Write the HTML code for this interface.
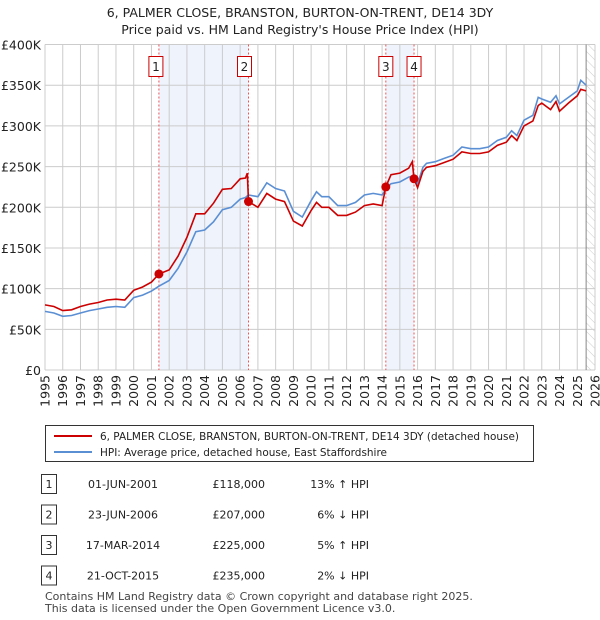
<!DOCTYPE html>
<html><head><meta charset="utf-8"><style>
body{margin:0;background:#fff;font-family:"Liberation Sans","DejaVu Sans",sans-serif;}
#wrap{position:relative;width:600px;height:620px;overflow:hidden}
svg text{font-family:"DejaVu Sans","Liberation Sans",sans-serif}
</style></head><body>
<div id="wrap">
<svg id="c" width="600" height="620"></svg>
</div>
<script>
const years=[1995,1995.5,1996,1996.5,1997,1997.5,1998,1998.5,1999,1999.5,2000,2000.5,2001,2001.42,2002,2002.5,2003,2003.5,2004,2004.5,2005,2005.5,2006,2006.3,2006.4,2006.47,2007,2007.5,2008,2008.5,2009,2009.5,2010,2010.3,2010.6,2011,2011.5,2012,2012.5,2013,2013.5,2014,2014.21,2014.5,2015,2015.5,2015.7,2015.8,2016,2016.3,2016.5,2017,2017.5,2018,2018.5,2019,2019.5,2020,2020.5,2021,2021.3,2021.6,2022,2022.5,2022.8,2023,2023.5,2023.8,2024,2024.5,2025,2025.2,2025.5];
const hpi=[72,70,66,67,70,73,75,77,78,77,89,92,97,103,110,125,145,170,172,182,197,200,210,212,214,215,213,230,223,220,195,188,208,219,213,213,202,202,206,215,217,215,222,229,231,237,238,239,229,249,254,256,260,264,274,272,272,274,282,286,294,288,307,313,335,333,329,337,327,335,343,356,350];
const paid=[80,78,73,74,78,81,83,86,87,86,98,102,108,118,123,140,163,192,192,205,222,223,235,236,242,207,200,217,210,207,183,177,196,206,200,200,190,190,194,202,204,202,225,240,242,248,256,235,224,244,249,251,255,259,268,266,266,268,276,280,288,282,300,306,325,328,320,330,318,328,337,345,343];
const saleYears=[2001.42,2006.47,2014.21,2015.8];
const salePrices=[118,207,225,235];
const yTicks=[0,50,100,150,200,250,300,350,400];
const yLabels=["£0","£50K","£100K","£150K","£200K","£250K","£300K","£350K","£400K"];
const xTicks=[1995,1996,1997,1998,1999,2000,2001,2002,2003,2004,2005,2006,2007,2008,2009,2010,2011,2012,2013,2014,2015,2016,2017,2018,2019,2020,2021,2022,2023,2024,2025,2026];
const rows=[["1","01-JUN-2001","£118,000","13% ↑ HPI"],["2","23-JUN-2006","£207,000","6% ↓ HPI"],["3","17-MAR-2014","£225,000","5% ↑ HPI"],["4","21-OCT-2015","£235,000","2% ↓ HPI"]];

const L=45,R=595,T=44.5,B=370;
const X=y=>L+(y-1995)*(R-L)/31;
const Y=v=>B-v*(B-T)/400;
const s=document.getElementById('c');
const NS='http://www.w3.org/2000/svg';
function el(t,a,txt){const e=document.createElementNS(NS,t);for(const k in a)e.setAttribute(k,a[k]);if(txt!==undefined)e.textContent=txt;s.appendChild(e);return e;}

let t=el('text',{x:300,y:17,'text-anchor':'middle','font-size':12.5,fill:'#222'},'6, PALMER CLOSE, BRANSTON, BURTON-ON-TRENT, DE14 3DY');

t=el('text',{x:300,y:34,'text-anchor':'middle','font-size':12.5,fill:'#222'},"Price paid vs. HM Land Registry's House Price Index (HPI)");


let sh=el('rect',{x:X(saleYears[0]),y:T,width:X(saleYears[1])-X(saleYears[0]),height:B-T,fill:'#eef3fc'});

sh=el('rect',{x:X(saleYears[2]),y:T,width:X(saleYears[3])-X(saleYears[2]),height:B-T,fill:'#eef3fc'});

const defs=el('defs',{});
defs.innerHTML='<pattern id="h" width="6" height="6" patternUnits="userSpaceOnUse" patternTransform="rotate(-45)"><line x1="0" y1="0" x2="0" y2="6" stroke="#ccc" stroke-width="1"/></pattern>';
let hr=el('rect',{x:X(2025.5),y:T,width:R-X(2025.5),height:B-T,fill:'url(#h)'});


yTicks.forEach((v,i)=>{
 const g=el('line',{x1:L,x2:R,y1:Y(v),y2:Y(v),stroke:'#ccc','stroke-width':1});
 
 const tl=el('text',{x:L-4,y:Y(v)+5,'text-anchor':'end','font-size':12.5,fill:'#222'},yLabels[i]);
 
});
xTicks.forEach(y=>{
 const g=el('line',{x1:X(y),x2:X(y),y1:T,y2:B,stroke:'#ccc','stroke-width':1});
 
 const tl=el('text',{x:0,y:0,'text-anchor':'end','font-size':12.5,fill:'#222',transform:`translate(${X(y)+4.5},${B+5}) rotate(-90)`},String(y));
 
});
let ax=el('line',{x1:X(2025.5),x2:X(2025.5),y1:T,y2:B,stroke:'#888','stroke-width':1});


const boxOff=[-10,-11,-7,-7];
saleYears.forEach((y,i)=>{
 const v=el('line',{x1:X(y),x2:X(y),y1:T,y2:B,stroke:'#e55','stroke-width':1,'stroke-dasharray':'2,2'});
 
 const bx=el('rect',{x:X(y)+boxOff[i],y:56.5,width:14,height:20,fill:'#fff',stroke:'#c00'});
 
 const bt=el('text',{x:X(y)+boxOff[i]+7,y:71,'text-anchor':'middle','font-size':12,fill:'#222'},String(i+1));
 
});

let p=el('path',{d:years.map((y,i)=>(i?'L':'M')+X(y).toFixed(1)+','+Y(hpi[i]).toFixed(1)).join(''),fill:'none',stroke:'#5b8fd4','stroke-width':1.6});

p=el('path',{d:years.map((y,i)=>(i?'L':'M')+X(y).toFixed(1)+','+Y(paid[i]).toFixed(1)).join(''),fill:'none',stroke:'#cc0000','stroke-width':1.6});

saleYears.forEach((y,i)=>{
 const d=el('circle',{cx:X(y),cy:Y(salePrices[i]),r:4.5,fill:'#cc0000'});
 
});

let lg=el('rect',{x:45.5,y:425.5,width:488,height:36,fill:'#fff',stroke:'#333'});

let ll=el('line',{x1:54,x2:92,y1:436,y2:436,stroke:'#cc0000','stroke-width':2});

ll=el('text',{x:100,y:440,'font-size':11,fill:'#222',textLength:419,lengthAdjust:'spacingAndGlyphs'},'6, PALMER CLOSE, BRANSTON, BURTON-ON-TRENT, DE14 3DY (detached house)');

ll=el('line',{x1:54,x2:92,y1:452,y2:452,stroke:'#5b8fd4','stroke-width':2});

ll=el('text',{x:100,y:456,'font-size':11,fill:'#222',textLength:287,lengthAdjust:'spacingAndGlyphs'},'HPI: Average price, detached house, East Staffordshire');


rows.forEach((r,i)=>{
 const cy=484+i*30.5;
 const b=el('rect',{x:41.5,y:cy-9.5,width:15,height:19,fill:'#fff',stroke:'#333'});
 
 const a=el('text',{x:49,y:cy+4,'text-anchor':'middle','font-size':11,fill:'#222'},r[0]);
 
 const d=el('text',{x:123,y:cy+4,'text-anchor':'middle','font-size':11,fill:'#222'},r[1]);
 
 const pr=el('text',{x:265,y:cy+4,'text-anchor':'end','font-size':11,fill:'#222'},r[2]);
 
 const h=el('text',{x:369,y:cy+4,'text-anchor':'end','font-size':11,fill:'#222'},r[3]);
 
});
t=el('text',{x:45,y:600,'font-size':11,fill:'#444'},'Contains HM Land Registry data © Crown copyright and database right 2025.');

t=el('text',{x:45,y:612,'font-size':11,fill:'#444'},'This data is licensed under the Open Government Licence v3.0.');

</script>
</body></html>
